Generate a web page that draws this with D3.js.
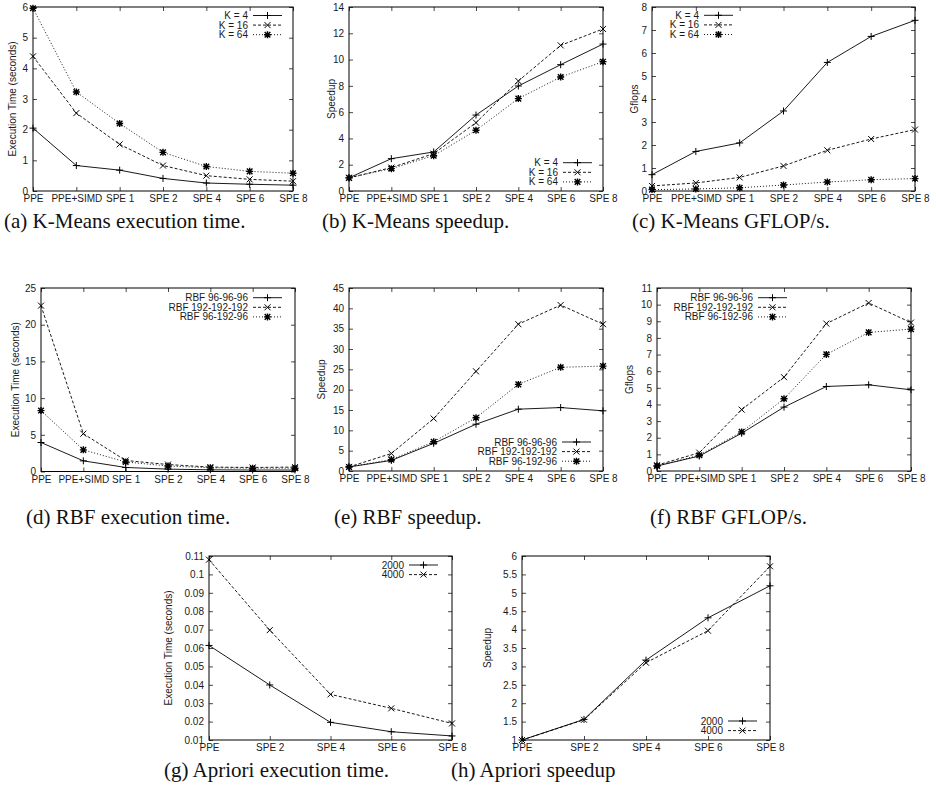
<!DOCTYPE html>
<html>
<head>
<meta charset="utf-8">
<script src="https://cdn.jsdelivr.net/npm/d3@7"></script>
<style>
  body { margin: 0; background: #fff; }
  svg { display: block; }
</style>
</head>
<body>
<svg id="chart" width="936" height="800"></svg>
<script>
// categories on the x axis
const coreCats = ["PPE", "PPE+SIMD", "SPE 1", "SPE 2", "SPE 4", "SPE 6", "SPE 8"];
const aprioriCats = ["PPE", "SPE 2", "SPE 4", "SPE 6", "SPE 8"];

// K-Means
const kmNames = ["K = 4", "K = 16", "K = 64"];
const kmTimeK4  = [2.05, 0.83, 0.68, 0.41, 0.26, 0.22, 0.19];
const kmTimeK16 = [4.39, 2.54, 1.52, 0.83, 0.50, 0.38, 0.32];
const kmTimeK64 = [5.96, 3.23, 2.20, 1.26, 0.80, 0.64, 0.58];
const kmSpeedK4  = [1.0, 2.46, 2.97, 5.78, 7.99, 9.61, 11.18];
const kmSpeedK16 = [1.0, 1.78, 2.84, 5.20, 8.37, 11.08, 12.33];
const kmSpeedK64 = [1.0, 1.70, 2.69, 4.62, 7.03, 8.67, 9.84];
const kmFlopsK4  = [0.71, 1.72, 2.09, 3.48, 5.59, 6.72, 7.42];
const kmFlopsK16 = [0.22, 0.35, 0.59, 1.09, 1.77, 2.26, 2.67];
const kmFlopsK64 = [0.06, 0.09, 0.14, 0.26, 0.39, 0.49, 0.54];

// RBF
const rbfNames = ["RBF 96-96-96", "RBF 192-192-192", "RBF 96-192-96"];
const rbfTime96  = [3.95, 1.45, 0.55, 0.32, 0.23, 0.20, 0.20];
const rbfTime192 = [22.6, 5.15, 1.50, 0.95, 0.60, 0.55, 0.60];
const rbfTimeMix = [8.3, 2.95, 1.30, 0.75, 0.50, 0.45, 0.45];
const rbfSpeed96  = [1.0, 2.6, 6.8, 11.5, 15.2, 15.6, 14.8];
const rbfSpeed192 = [1.0, 4.3, 12.9, 24.5, 36.1, 40.8, 36.1];
const rbfSpeedMix = [1.0, 2.8, 7.2, 13.1, 21.3, 25.5, 25.8];
const rbfFlops96  = [0.30, 0.90, 2.27, 3.84, 5.08, 5.18, 4.88];
const rbfFlops192 = [0.35, 1.10, 3.69, 5.64, 8.86, 10.1, 8.92];
const rbfFlopsMix = [0.30, 0.95, 2.35, 4.34, 7.01, 8.33, 8.53];

// Apriori
const apNames = ["2000", "4000"];
const apTime2000 = [0.0614, 0.0399, 0.0196, 0.0145, 0.0122];
const apTime4000 = [0.108, 0.0697, 0.0348, 0.0272, 0.019];
const apSpeed2000 = [1.0, 1.56, 3.17, 4.32, 5.19];
const apSpeed4000 = [1.0, 1.55, 3.10, 3.97, 5.72];

// y tick values
const kmTimeTicks  = [0, 1, 2, 3, 4, 5, 6];
const kmSpeedTicks = [0, 2, 4, 6, 8, 10, 12, 14];
const kmFlopsTicks = [0, 1, 2, 3, 4, 5, 6, 7, 8];
const rbfTimeTicks  = [0, 5, 10, 15, 20, 25];
const rbfSpeedTicks = [0, 5, 10, 15, 20, 25, 30, 35, 40, 45];
const rbfFlopsTicks = [0, 1, 2, 3, 4, 5, 6, 7, 8, 9, 10, 11];
const apTimeTicks  = [0.01, 0.02, 0.03, 0.04, 0.05, 0.06, 0.07, 0.08, 0.09, 0.1, 0.11];
const apSpeedTicks = [1, 1.5, 2, 2.5, 3, 3.5, 4, 4.5, 5, 5.5, 6];

const svg = d3.select("#chart");
const SANS = "'Liberation Sans', Arial, Helvetica, sans-serif";
const SERIF = "'Liberation Serif', 'Times New Roman', serif";
const INK = "#1a1a1a";

const panels = [
  { box: [33, 7, 293, 191], cats: coreCats, y: [0, 6], ticks: kmTimeTicks,
    ylabel: "Execution Time (seconds)", ylabelX: 12,
    series: [kmTimeK4, kmTimeK16, kmTimeK64], names: kmNames, legend: [248, 15.5],
    caption: "(a) K-Means execution time.", capX: 4, capY: 228 },
  { box: [349, 7, 603, 191], cats: coreCats, y: [0, 14], ticks: kmSpeedTicks,
    ylabel: "Speedup", ylabelX: 331,
    series: [kmSpeedK4, kmSpeedK16, kmSpeedK64], names: kmNames, legend: [558, 162.7],
    caption: "(b) K-Means speedup.", capX: 322, capY: 228 },
  { box: [652, 7, 915, 191], cats: coreCats, y: [0, 8], ticks: kmFlopsTicks,
    ylabel: "Gflops", ylabelX: 634,
    series: [kmFlopsK4, kmFlopsK16, kmFlopsK64], names: kmNames, legend: [699, 15.3],
    caption: "(c) K-Means GFLOP/s.", capX: 632, capY: 228 },
  { box: [41, 288, 295, 471.5], cats: coreCats, y: [0, 25], ticks: rbfTimeTicks,
    ylabel: "Execution Time (seconds)", ylabelX: 15,
    series: [rbfTime96, rbfTime192, rbfTimeMix], names: rbfNames, legend: [248, 297.7],
    caption: "(d) RBF execution time.", capX: 26, capY: 524 },
  { box: [349, 288, 603, 471], cats: coreCats, y: [0, 45], ticks: rbfSpeedTicks,
    ylabel: "Speedup", ylabelX: 321,
    series: [rbfSpeed96, rbfSpeed192, rbfSpeedMix], names: rbfNames, legend: [557, 442],
    caption: "(e) RBF speedup.", capX: 334, capY: 524 },
  { box: [657, 288, 911, 471], cats: coreCats, y: [0, 11], ticks: rbfFlopsTicks,
    ylabel: "Gflops", ylabelX: 629,
    series: [rbfFlops96, rbfFlops192, rbfFlopsMix], names: rbfNames, legend: [753, 297.7],
    caption: "(f) RBF GFLOP/s.", capX: 650, capY: 524 },
  { box: [209, 556, 452, 740], cats: aprioriCats, y: [0.01, 0.11], ticks: apTimeTicks,
    ylabel: "Execution Time (seconds)", ylabelX: 168,
    series: [apTime2000, apTime4000], names: apNames, legend: [404, 565],
    caption: "(g) Apriori execution time.", capX: 164, capY: 777 },
  { box: [522, 556, 770, 740], cats: aprioriCats, y: [1, 6], ticks: apSpeedTicks,
    ylabel: "Speedup", ylabelX: 487,
    series: [apSpeed2000, apSpeed4000], names: apNames, legend: [723, 721],
    caption: "(h) Apriori speedup", capX: 451, capY: 777 }
];

const dashes = [null, "3,2", "1,2"];

// gnuplot point types: +, x, *
function markerPath(i) {
  const p = d3.path();
  if (i === 0 || i === 2) {
    p.moveTo(-3.5, 0); p.lineTo(3.5, 0);
    p.moveTo(0, -3.5); p.lineTo(0, 3.5);
  }
  if (i === 1 || i === 2) {
    const r = i === 1 ? 3 : 2.8;
    p.moveTo(-r, -r); p.lineTo(r, r);
    p.moveTo(-r, r); p.lineTo(r, -r);
  }
  return p.toString();
}

function styleAxis(g, fs) {
  g.select(".domain").remove();
  g.selectAll(".tick line").attr("stroke", INK).attr("stroke-width", 0.8);
  g.selectAll(".tick text")
    .attr("font-family", SANS)
    .attr("font-size", fs)
    .attr("fill", INK);
}

function drawPanel(cfg) {
  const [left, top, right, bottom] = cfg.box;
  const fs = 10;
  const x = d3.scalePoint().domain(cfg.cats).range([left, right]);
  const y = d3.scaleLinear().domain(cfg.y).range([bottom, top]);
  const g = svg.append("g");

  const fmt = v => String(+v.toFixed(3));

  g.append("g")
    .attr("transform", `translate(0,${bottom})`)
    .call(d3.axisBottom(x).tickSizeInner(-4).tickSizeOuter(0).tickPadding(4))
    .call(s => styleAxis(s, fs));
  g.append("g")
    .attr("transform", `translate(0,${top})`)
    .call(d3.axisTop(x).tickSizeInner(-4).tickSizeOuter(0).tickFormat(""))
    .call(s => styleAxis(s, fs));
  g.append("g")
    .attr("transform", `translate(${left},0)`)
    .call(d3.axisLeft(y).tickValues(cfg.ticks).tickFormat(fmt)
      .tickSizeInner(-4).tickSizeOuter(0).tickPadding(5))
    .call(s => styleAxis(s, fs));
  g.append("g")
    .attr("transform", `translate(${right},0)`)
    .call(d3.axisRight(y).tickValues(cfg.ticks).tickFormat("")
      .tickSizeInner(-4).tickSizeOuter(0))
    .call(s => styleAxis(s, fs));

  g.append("rect")
    .attr("x", left).attr("y", top)
    .attr("width", right - left).attr("height", bottom - top)
    .attr("fill", "none").attr("stroke", "#000").attr("stroke-width", 1);

  g.append("text")
    .attr("transform", `translate(${cfg.ylabelX},${(top + bottom) / 2}) rotate(-90)`)
    .attr("text-anchor", "middle")
    .attr("dy", "0.35em")
    .attr("font-family", SANS)
    .attr("font-size", fs)
    .attr("fill", INK)
    .text(cfg.ylabel);

  const line = d3.line()
    .x((d, i) => x(cfg.cats[i]))
    .y(d => y(d));

  cfg.series.forEach((vals, si) => {
    g.append("path")
      .datum(vals)
      .attr("d", line)
      .attr("fill", "none")
      .attr("stroke", "#000")
      .attr("stroke-width", 0.9)
      .attr("stroke-dasharray", dashes[si]);
    g.selectAll(null)
      .data(vals)
      .join("path")
      .attr("transform", (d, i) => `translate(${x(cfg.cats[i])},${y(d)})`)
      .attr("d", markerPath(si))
      .attr("fill", "none")
      .attr("stroke", "#000")
      .attr("stroke-width", si === 2 ? 1.4 : 1);
  });

  // legend, gnuplot style: right-aligned title then a sample
  const [lx, ly] = cfg.legend;
  cfg.names.forEach((name, si) => {
    const yy = ly + si * 9.6;
    g.append("text")
      .attr("x", lx).attr("y", yy)
      .attr("dy", "0.35em")
      .attr("text-anchor", "end")
      .attr("font-family", SANS)
      .attr("font-size", fs)
      .attr("fill", INK)
      .text(name);
    g.append("line")
      .attr("x1", lx + 5).attr("x2", lx + 34)
      .attr("y1", yy).attr("y2", yy)
      .attr("stroke", "#000").attr("stroke-width", 0.9)
      .attr("stroke-dasharray", dashes[si]);
    g.append("path")
      .attr("transform", `translate(${lx + 19.5},${yy})`)
      .attr("d", markerPath(si))
      .attr("fill", "none").attr("stroke", "#000")
      .attr("stroke-width", si === 2 ? 1.4 : 1);
  });

  svg.append("text")
    .attr("x", cfg.capX).attr("y", cfg.capY)
    .attr("font-family", SERIF)
    .attr("font-size", 21)
    .attr("fill", "#111")
    .text(cfg.caption);
}

panels.forEach(drawPanel);
</script>
</body>
</html>
